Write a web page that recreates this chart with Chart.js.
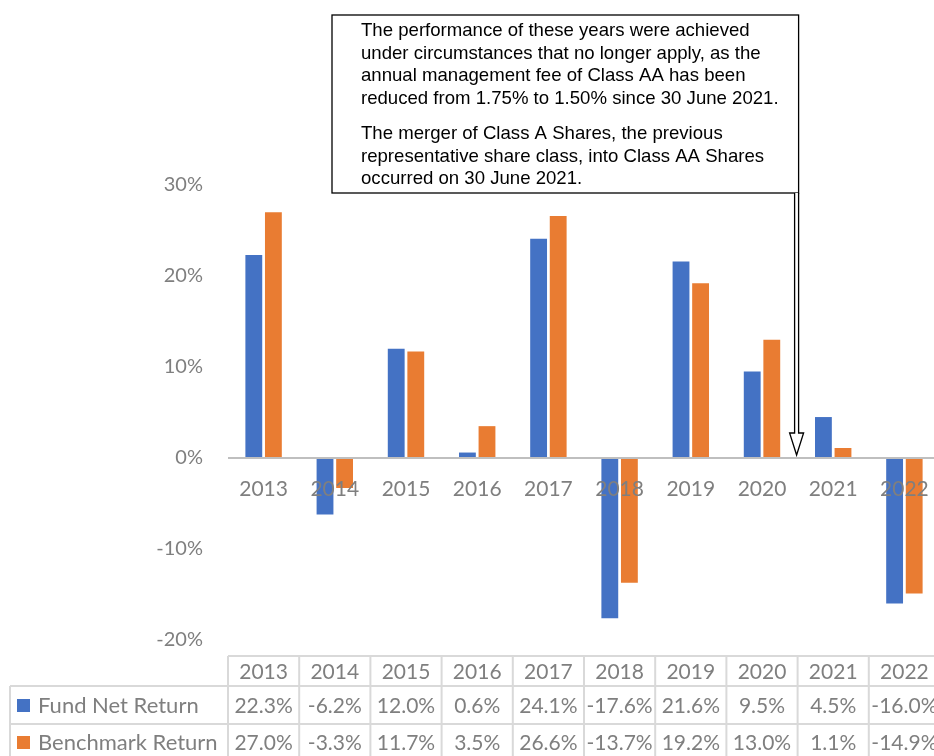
<!DOCTYPE html>
<html>
<head>
    <title>Fund vs Benchmark</title>
    <script src="https://cdn.jsdelivr.net/npm/chart.js"></script>
    <style>
        html, body { margin: 0; padding: 0; background: #fff; overflow: hidden; }
        #wrap { width: 934px; height: 756px; overflow: hidden; }
    </style>
</head>
<body>
    <div id="wrap">
        <canvas id="returnsChart" width="944" height="756"></canvas>
    </div>

    <script>
        const years = ['2013', '2014', '2015', '2016', '2017', '2018', '2019', '2020', '2021', '2022'];
        const fundReturn = [22.3, -6.2, 12.0, 0.6, 24.1, -17.6, 21.6, 9.5, 4.5, -16.0];
        const benchReturn = [27.0, -3.3, 11.7, 3.5, 26.6, -13.7, 19.2, 13.0, 1.1, -14.9];
        const seriesNames = ['Fund Net Return', 'Benchmark Return'];
        const yTicks = [-20, -10, 0, 10, 20, 30];

        const noteLines = [
            ['The performance of these years were achieved',
             'under circumstances that no longer apply, as the',
             'annual management fee of Class AA has been',
             'reduced from 1.75% to 1.50% since 30 June 2021.'],
            ['The merger of Class A Shares, the previous',
             'representative share class, into Class AA Shares',
             'occurred on 30 June 2021.']
        ];
        // the note points at the gap between these two years
        const noteBetween = ['2020', '2021'];

        const BLUE = '#4472C4';
        const ORANGE = '#E97C32';
        const GREY_TEXT = '#7f7f7f';
        const GRID = '#d9d9d9';
        const FONT = 'Lato, "Open Sans", sans-serif';

        const fmt = v => v.toFixed(1) + '%';

        // category labels over the zero line, data table, note box with arrow
        const overlay = {
            id: 'overlay',
            afterDatasetsDraw(chart) {
                const ctx = chart.ctx;
                const x = chart.scales.x;
                const y = chart.scales.y;
                const area = chart.chartArea;
                const y0 = y.getPixelForValue(0);
                const half = (x.getPixelForValue(1) - x.getPixelForValue(0)) / 2;

                ctx.save();
                // zero line
                ctx.strokeStyle = '#bfbfbf';
                ctx.lineWidth = 2;
                ctx.beginPath();
                ctx.moveTo(area.left, y0);
                ctx.lineTo(area.right, y0);
                ctx.stroke();

                // year labels next to the axis
                ctx.fillStyle = GREY_TEXT;
                ctx.font = '21px ' + FONT;
                ctx.textAlign = 'center';
                ctx.textBaseline = 'middle';
                years.forEach((yr, i) => {
                    ctx.fillText(yr, x.getPixelForValue(i), y0 + 31);
                });

                // data table
                const rowTops = [656, 686, 724, 770];
                const leftEdge = 10;
                const colLeft = area.left;
                const colRight = area.right;
                ctx.strokeStyle = GRID;
                ctx.lineWidth = 2;
                ctx.beginPath();
                ctx.moveTo(colLeft, rowTops[0]);
                ctx.lineTo(colRight, rowTops[0]);
                ctx.moveTo(leftEdge, rowTops[1]);
                ctx.lineTo(colRight, rowTops[1]);
                ctx.moveTo(leftEdge, rowTops[2]);
                ctx.lineTo(colRight, rowTops[2]);
                ctx.moveTo(leftEdge, rowTops[1]);
                ctx.lineTo(leftEdge, rowTops[3]);
                for (let i = 0; i <= years.length; i++) {
                    const bx = x.getPixelForValue(i) - half;
                    ctx.moveTo(bx, rowTops[0]);
                    ctx.lineTo(bx, rowTops[3]);
                }
                ctx.stroke();

                ctx.fillStyle = GREY_TEXT;
                ctx.textAlign = 'center';
                years.forEach((yr, i) => {
                    const cx = x.getPixelForValue(i);
                    ctx.fillText(yr, cx, 672);
                    ctx.fillText(fmt(fundReturn[i]), cx, 706);
                    ctx.fillText(fmt(benchReturn[i]), cx, 743);
                });

                // series keys in the first column
                const rowMid = [706, 743];
                const keyColors = [BLUE, ORANGE];
                ctx.textAlign = 'left';
                ctx.font = '22px ' + FONT;
                seriesNames.forEach((name, r) => {
                    ctx.fillStyle = keyColors[r];
                    ctx.fillRect(17, rowMid[r] - 7, 13, 13);
                    ctx.fillStyle = GREY_TEXT;
                    ctx.fillText(name, 38, rowMid[r]);
                });

                // note box
                const ax = (x.getPixelForValue(years.indexOf(noteBetween[0])) +
                            x.getPixelForValue(years.indexOf(noteBetween[1]))) / 2 - 1;
                const box = { left: 332, top: 15, right: ax + 2, bottom: 193 };
                ctx.fillStyle = '#fff';
                ctx.fillRect(box.left, box.top, box.right - box.left, box.bottom - box.top);
                ctx.strokeStyle = '#000';
                ctx.lineWidth = 1.3;
                ctx.strokeRect(box.left, box.top, box.right - box.left, box.bottom - box.top);

                ctx.fillStyle = '#000';
                ctx.font = '18.6px "Liberation Sans", Arial, sans-serif';
                ctx.textAlign = 'left';
                ctx.textBaseline = 'alphabetic';
                let ty = 36;
                noteLines.forEach((para, p) => {
                    para.forEach(line => {
                        ctx.fillText(line, 361, ty);
                        ty += 22.5;
                    });
                    ty += 13;
                });

                // hollow arrow down to the zero line
                const tip = y0 - 3;
                const headTop = tip - 22;
                ctx.fillStyle = '#fff';
                ctx.lineWidth = 1.3;
                ctx.beginPath();
                ctx.moveTo(ax - 2, box.bottom);
                ctx.lineTo(ax - 2, headTop);
                ctx.lineTo(ax - 7, headTop);
                ctx.lineTo(ax, tip);
                ctx.lineTo(ax + 7, headTop);
                ctx.lineTo(ax + 2, headTop);
                ctx.lineTo(ax + 2, box.bottom);
                ctx.fill();
                ctx.stroke();
                ctx.restore();
            }
        };

        const ctx = document.getElementById('returnsChart').getContext('2d');
        const chart = new Chart(ctx, {
            type: 'bar',
            data: {
                labels: years,
                datasets: [{
                    label: seriesNames[0],
                    data: fundReturn,
                    backgroundColor: BLUE,
                    categoryPercentage: 0.55,
                    barPercentage: 0.86
                }, {
                    label: seriesNames[1],
                    data: benchReturn,
                    backgroundColor: ORANGE,
                    categoryPercentage: 0.55,
                    barPercentage: 0.86
                }]
            },
            options: {
                responsive: false,
                animation: false,
                layout: {
                    padding: { top: 185, bottom: 116, left: 0, right: 4 }
                },
                plugins: {
                    legend: { display: false },
                    tooltip: { enabled: false }
                },
                scales: {
                    x: {
                        display: false
                    },
                    y: {
                        min: -20,
                        max: 30,
                        afterBuildTicks(scale) {
                            scale.ticks = yTicks.map(v => ({ value: v }));
                        },
                        afterFit(scale) {
                            scale.width = 228;
                        },
                        grid: { display: false, drawTicks: false },
                        border: { display: false },
                        ticks: {
                            padding: 25,
                            color: GREY_TEXT,
                            font: { family: FONT, size: 20 },
                            callback: v => v + '%'
                        }
                    }
                }
            },
            plugins: [overlay]
        });
    </script>
</body>
</html>
